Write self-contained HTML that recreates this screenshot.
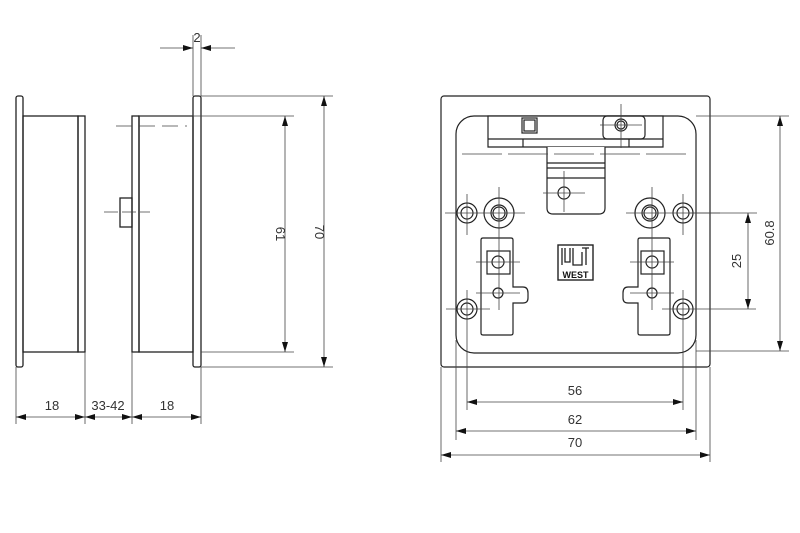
<!DOCTYPE html>
<html><head><meta charset="utf-8"><style>
html,body{margin:0;padding:0;background:#fff;}
svg{display:block;}
text{font-family:"Liberation Sans",sans-serif;fill:#333;font-size:13px;}
</style></head><body>
<svg width="800" height="533" viewBox="0 0 800 533" xmlns="http://www.w3.org/2000/svg">
<defs>
<marker id="a" viewBox="0 0 10 6" refX="10" refY="3" markerWidth="10" markerHeight="6" orient="auto-start-reverse" markerUnits="userSpaceOnUse"><path d="M0,0 L10,3 L0,6 z" fill="#111"/></marker>
</defs>
<g fill="none" stroke="#222" stroke-width="1.3">
<!-- left side view -->
<rect x="16" y="96" width="7" height="271" rx="2"/>
<rect x="23" y="116" width="55" height="236"/>
<rect x="78" y="116" width="7" height="236"/>
<!-- middle side view -->
<rect x="132" y="116" width="7" height="236"/>
<rect x="139" y="116" width="54" height="236"/>
<rect x="193" y="96" width="8" height="271" rx="2"/>
<rect x="120" y="198" width="12" height="29"/>
</g>
<g stroke="#444" stroke-width="0.8" fill="none">
<line x1="116" y1="126" x2="187" y2="126" stroke-dasharray="16,7"/>
<line x1="104" y1="212" x2="150" y2="212" stroke-dasharray="14,4"/>
<!-- 2 dim -->
<line x1="193" y1="35" x2="193" y2="96"/><line x1="201" y1="35" x2="201" y2="96"/>
<line x1="160" y1="48" x2="193" y2="48" marker-end="url(#a)"/>
<line x1="235" y1="48" x2="201" y2="48" marker-end="url(#a)"/>
<!-- 61/70 -->
<line x1="201" y1="96" x2="333" y2="96"/><line x1="139" y1="116" x2="294" y2="116"/>
<line x1="201" y1="352" x2="294" y2="352"/><line x1="201" y1="367" x2="333" y2="367"/>
<line x1="285" y1="116" x2="285" y2="352" marker-start="url(#a)" marker-end="url(#a)"/>
<line x1="324" y1="96" x2="324" y2="367" marker-start="url(#a)" marker-end="url(#a)"/>
<!-- bottom dims left -->
<line x1="16" y1="367" x2="16" y2="424"/><line x1="85" y1="352" x2="85" y2="424"/>
<line x1="132" y1="352" x2="132" y2="424"/><line x1="201" y1="367" x2="201" y2="424"/>
<line x1="16" y1="417" x2="85" y2="417" marker-start="url(#a)" marker-end="url(#a)"/>
<line x1="85" y1="417" x2="132" y2="417" marker-start="url(#a)" marker-end="url(#a)"/>
<line x1="132" y1="417" x2="201" y2="417" marker-start="url(#a)" marker-end="url(#a)"/>
</g>
<text x="52" y="410" text-anchor="middle">18</text>
<text x="108" y="410" text-anchor="middle">33-42</text>
<text x="167" y="410" text-anchor="middle">18</text>
<text transform="translate(276,234) rotate(90)" text-anchor="middle">61</text>
<text transform="translate(315,232) rotate(90)" text-anchor="middle">70</text>
<text x="197" y="42" text-anchor="middle">2</text>

<!-- front view -->
<g fill="none" stroke="#222" stroke-width="1.2">
<rect x="441" y="96" width="269" height="271" rx="3"/>
<rect x="456" y="116" width="240" height="237" rx="18"/>
<path d="M488,116 H663 V147 H488 Z" fill="#fff"/>
<line x1="488" y1="139" x2="663" y2="139"/>
<line x1="523" y1="147" x2="523" y2="139"/><line x1="629" y1="147" x2="629" y2="139"/>
<path d="M547,147 V208 Q547,214 553,214 H599 Q605,214 605,208 V147" fill="#fff"/>
<line x1="547" y1="163" x2="605" y2="163"/><line x1="547" y1="168" x2="605" y2="168"/>
<line x1="547" y1="178" x2="605" y2="178"/>
<rect x="522" y="118" width="15" height="15"/><rect x="524" y="120" width="11" height="11"/>
<rect x="603" y="116" width="42" height="23" rx="4"/>
<circle cx="621" cy="125" r="6"/><circle cx="621" cy="125" r="4"/>
<circle cx="564" cy="193" r="6"/>
<circle cx="467" cy="213" r="10"/><circle cx="467" cy="213" r="6"/>
<circle cx="683" cy="213" r="10"/><circle cx="683" cy="213" r="6"/>
<circle cx="499" cy="213" r="15"/><circle cx="499" cy="213" r="8"/><circle cx="499" cy="213" r="6"/>
<circle cx="650" cy="213" r="15"/><circle cx="650" cy="213" r="8"/><circle cx="650" cy="213" r="6"/>
<circle cx="467" cy="309" r="10"/><circle cx="467" cy="309" r="6"/>
<circle cx="683" cy="309" r="10"/><circle cx="683" cy="309" r="6"/>
<path d="M483,238 H511 Q513,238 513,240 V287 H523 Q528,287 528,293 V298 Q528,303 523,303 H513 V333 Q513,335 511,335 H483 Q481,335 481,333 V240 Q481,238 483,238 Z"/>
<rect x="487" y="251" width="23" height="23"/><circle cx="498" cy="262" r="6"/>
<circle cx="498" cy="293" r="5"/>
<path d="M668,238 H640 Q638,238 638,240 V287 H628 Q623,287 623,293 V298 Q623,303 628,303 H638 V333 Q638,335 640,335 H668 Q670,335 670,333 V240 Q670,238 668,238 Z"/>
<rect x="641" y="251" width="23" height="23"/><circle cx="652" cy="262" r="6"/>
<circle cx="652" cy="293" r="5"/>
<rect x="558" y="245" width="35" height="35" stroke-width="1.4"/>
<path d="M562,248 V265 M565,248 V262 H570 V248 M573,248 V265 H582 V252 M586,248 V265 M582,248 H589" stroke-width="1.3"/>
</g>
<text x="575.5" y="278" text-anchor="middle" style="font-size:9px;font-weight:bold;fill:#111">WEST</text>
<g stroke="#444" stroke-width="0.8" fill="none">
<line x1="462" y1="154" x2="690" y2="154" stroke-dasharray="40,6"/>
<line x1="621" y1="104" x2="621" y2="148"/><line x1="600" y1="125" x2="642" y2="125"/>
<line x1="564" y1="171" x2="564" y2="212"/><line x1="543" y1="193" x2="585" y2="193"/>
<line x1="445" y1="213" x2="525" y2="213"/><line x1="626" y1="213" x2="720" y2="213"/>
<line x1="467" y1="194" x2="467" y2="235"/><line x1="683" y1="194" x2="683" y2="235"/>
<line x1="499" y1="187" x2="499" y2="310"/><line x1="652" y1="187" x2="652" y2="310"/>
<line x1="476" y1="262" x2="520" y2="262"/><line x1="630" y1="262" x2="674" y2="262"/>
<line x1="476" y1="293" x2="520" y2="293"/><line x1="630" y1="293" x2="674" y2="293"/>
<line x1="446" y1="309" x2="490" y2="309"/><line x1="662" y1="309" x2="756" y2="309"/>
<line x1="467" y1="290" x2="467" y2="410"/><line x1="683" y1="290" x2="683" y2="410"/>
<line x1="456" y1="340" x2="456" y2="440"/><line x1="696" y1="340" x2="696" y2="440"/>
<line x1="441" y1="367" x2="441" y2="462"/><line x1="710" y1="367" x2="710" y2="462"/>
<line x1="467" y1="402" x2="683" y2="402" marker-start="url(#a)" marker-end="url(#a)"/>
<line x1="456" y1="431" x2="696" y2="431" marker-start="url(#a)" marker-end="url(#a)"/>
<line x1="441" y1="455" x2="710" y2="455" marker-start="url(#a)" marker-end="url(#a)"/>
<line x1="696" y1="116" x2="789" y2="116"/><line x1="696" y1="351" x2="789" y2="351"/>
<line x1="780" y1="116" x2="780" y2="351" marker-start="url(#a)" marker-end="url(#a)"/>
<line x1="690" y1="213" x2="757" y2="213"/>
<line x1="748" y1="213" x2="748" y2="309" marker-start="url(#a)" marker-end="url(#a)"/>
</g>
<text x="575" y="395" text-anchor="middle">56</text>
<text x="575" y="424" text-anchor="middle">62</text>
<text x="575" y="447" text-anchor="middle">70</text>
<text transform="translate(741,261) rotate(-90)" text-anchor="middle">25</text>
<text transform="translate(774,233) rotate(-90)" text-anchor="middle">60.8</text>
</svg>
</body></html>
